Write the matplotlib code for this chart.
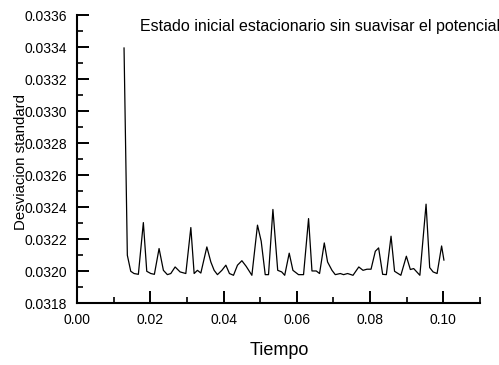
import matplotlib
matplotlib.use('Agg')
import numpy as np
from matplotlib import pyplot as plt
from matplotlib.ticker import MultipleLocator, FormatStrFormatter

# data (vertices of the trace)
tiempo = [0.01284, 0.01374, 0.01467, 0.01557, 0.01675, 0.01811, 0.01904, 0.02014,
          0.02112, 0.02240, 0.02358, 0.02467, 0.02560, 0.02678, 0.02814, 0.02970,
          0.03107, 0.03197, 0.03287, 0.03380, 0.03544, 0.03653, 0.03743, 0.03833,
          0.03954, 0.04063, 0.04161, 0.04271, 0.04380, 0.04500, 0.04617, 0.04773,
          0.04926, 0.05027, 0.05137, 0.05227, 0.05347, 0.05478, 0.05587, 0.05669,
          0.05792, 0.05893, 0.06046, 0.06183, 0.06320, 0.06413, 0.06530, 0.06620,
          0.06749, 0.06839, 0.06959, 0.07049, 0.07186, 0.07276, 0.07385, 0.07533,
          0.07691, 0.07806, 0.07915, 0.08025, 0.08142, 0.08232, 0.08342, 0.08443,
          0.08571, 0.08667, 0.08839, 0.08989, 0.09098, 0.09189, 0.09358, 0.09527,
          0.09626, 0.09719, 0.09828, 0.09951, 0.10014]
desv = [0.033394, 0.032100, 0.032000, 0.031986, 0.031981, 0.032304, 0.032000, 0.031986,
        0.031981, 0.032142, 0.032006, 0.031979, 0.031986, 0.032027, 0.031996, 0.031986,
        0.032273, 0.031986, 0.032006, 0.031989, 0.032152, 0.032058, 0.032006, 0.031979,
        0.032006, 0.032038, 0.031986, 0.031975, 0.032038, 0.032066, 0.032031, 0.031975,
        0.032288, 0.032188, 0.031979, 0.031979, 0.032386, 0.032006, 0.031996, 0.031975,
        0.032113, 0.032006, 0.031979, 0.031979, 0.032329, 0.032002, 0.032002, 0.031986,
        0.032177, 0.032058, 0.032006, 0.031979, 0.031986, 0.031979, 0.031986, 0.031975,
        0.032027, 0.032006, 0.032013, 0.032013, 0.032125, 0.032146, 0.031981, 0.031979,
        0.032219, 0.032000, 0.031975, 0.032094, 0.032011, 0.032017, 0.031975, 0.032419,
        0.032023, 0.031996, 0.031986, 0.032158, 0.032070]

titulo = 'Estado inicial estacionario sin suavisar el potencial'

plt.rcParams['font.family'] = ['Liberation Sans', 'DejaVu Sans']

fig = plt.figure(figsize=(4.99, 3.65), dpi=100)
ax = fig.add_axes([0.1543, 0.169, 0.8077, 0.7899])
ax.plot(tiempo, desv, color='black', lw=0.9)

ax.set_xlim(0, 0.11)
ax.set_ylim(0.0318, 0.0336)
ax.xaxis.set_major_locator(MultipleLocator(0.02))
ax.xaxis.set_minor_locator(MultipleLocator(0.01))
ax.yaxis.set_major_locator(MultipleLocator(0.0002))
ax.yaxis.set_minor_locator(MultipleLocator(0.0001))
ax.xaxis.set_major_formatter(FormatStrFormatter('%.2f'))
ax.yaxis.set_major_formatter(FormatStrFormatter('%.4f'))

for s in ['top', 'right']:
	ax.spines[s].set_visible(False)
for s in ['left', 'bottom']:
	ax.spines[s].set_linewidth(1.5)
ax.tick_params(which='major', direction='in', length=8.6, width=1.4, labelsize=10, pad=7)
ax.tick_params(which='minor', direction='in', length=4.3, width=1.2)

ax.set_xlabel('Tiempo', fontsize=13)
ax.set_ylabel('Desviacion standard', fontsize=10.8)
ax.xaxis.set_label_coords(0.501, -0.134)
ax.yaxis.set_label_coords(-0.1216, 0.49)

fig.text(140/499, 1-27/365, titulo, ha='left', va='center', fontsize=11.5)

fig.savefig('out.png', dpi=100)
